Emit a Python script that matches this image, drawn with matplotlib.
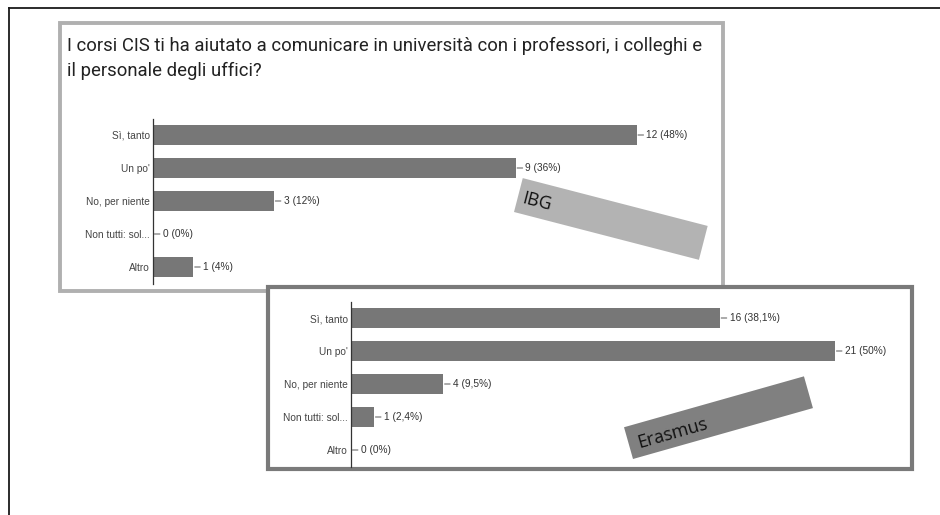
import matplotlib.pyplot as plt
from matplotlib.patches import Rectangle
from matplotlib.lines import Line2D
from matplotlib.transforms import IdentityTransform

W, H = 940, 515

categories = ["Sì, tanto", "Un po'", "No, per niente", "Non tutti: sol...", "Altro"]
ibg_counts = [12, 9, 3, 0, 1]
ibg_labels = ["12 (48%)", "9 (36%)", "3 (12%)", "0 (0%)", "1 (4%)"]
erasmus_counts = [16, 21, 4, 1, 0]
erasmus_labels = ["16 (38,1%)", "21 (50%)", "4 (9,5%)", "1 (2,4%)", "0 (0%)"]
title = ("I corsi CIS ti ha aiutato a comunicare in università con i professori, i colleghi e\n"
         "il personale degli uffici?")

bar_color = "#777777"
label_font = "Liberation Sans"


def fx(px):
    return px / W


def fy(py):
    return 1 - py / H


def panel_box(fig, x0, y0, x1, y1, color, lw, z):
    # image-pixel box (top-left origin) drawn as a figure patch
    r = Rectangle((fx(x0), fy(y1)), fx(x1) - fx(x0), fy(y0) - fy(y1),
                  transform=fig.transFigure, facecolor="white", edgecolor=color,
                  linewidth=lw, zorder=z)
    fig.patches.append(r)


def tag_box(fig, x, y, w, h, angle, color, text, tx, ty, size, z):
    # rotated label box, anchored at its lower-left corner (image pixels)
    r = Rectangle((x, H - y), w, h, angle=angle, transform=IdentityTransform(),
                  facecolor=color, edgecolor="none", zorder=z)
    fig.patches.append(r)
    fig.text(fx(tx), fy(ty), text, rotation=angle, rotation_mode="anchor",
             ha="left", va="center", fontsize=size, family="Open Sans",
             color="#111111", zorder=z + 1)


def bar_panel(fig, left, top, px_per_unit, xmax, counts, labels, z):
    height = 33 * 5
    ax = fig.add_axes([fx(left), fy(top + height), fx(px_per_unit * xmax), height / H])
    ax.set_zorder(z)
    ax.patch.set_visible(False)
    y = list(range(len(categories)))
    ax.barh(y, counts, height=0.6, color=bar_color)
    for yi, v, lab in zip(y, counts, labels):
        ax.annotate(lab, xy=(v, yi), xytext=(7, 0), textcoords="offset points",
                    ha="left", va="center", fontsize=7.3, family=label_font, color="#333333",
                    arrowprops=dict(arrowstyle="-", color="#555555", lw=0.7,
                                    shrinkA=0, shrinkB=1))
    ax.set_xlim(0, xmax)
    ax.set_ylim(len(categories) - 0.5, -0.5)
    ax.set_yticks(y)
    ax.set_yticklabels(categories, fontsize=7.3, family=label_font, color="#444444")
    ax.tick_params(axis="y", length=0, pad=2)
    ax.set_xticks([])
    for s in ["top", "right", "bottom"]:
        ax.spines[s].set_visible(False)
    ax.spines["left"].set_color("#333333")
    ax.spines["left"].set_linewidth(0.9)
    return ax


fig = plt.figure(figsize=(W / 100, H / 100), dpi=100)

# outer frame (top and left edges only)
fig.add_artist(Line2D([fx(9), 1], [fy(8), fy(8)], color="#1a1a1a", lw=1.3, zorder=0))
fig.add_artist(Line2D([fx(9), fx(9)], [fy(8), 0], color="#1a1a1a", lw=1.3, zorder=0))

# IBG panel
panel_box(fig, 60.5, 23.5, 722.5, 290.5, "#b0b0b0", 2.8, 1)
fig.text(fx(67), fy(37), title, ha="left", va="top", fontsize=13.3, family="Roboto",
         color="#222222", linespacing=1.45, zorder=2)
bar_panel(fig, 153, 118.5, 40.3, 14, ibg_counts, ibg_labels, 2)

# Erasmus panel
panel_box(fig, 268, 287, 912, 469, "#7a7a7a", 3.0, 3)
bar_panel(fig, 351, 301.5, 23.05, 24, erasmus_counts, erasmus_labels, 4)

# rotated tags
tag_box(fig, 514, 212, 191, 35, -14.5, "#b3b3b3", "IBG", 523, 198, 13, 5)
tag_box(fig, 633, 459, 187, 33, 15.8, "#808080", "Erasmus", 638, 443, 13, 5)

fig.savefig("out.png", dpi=100)
